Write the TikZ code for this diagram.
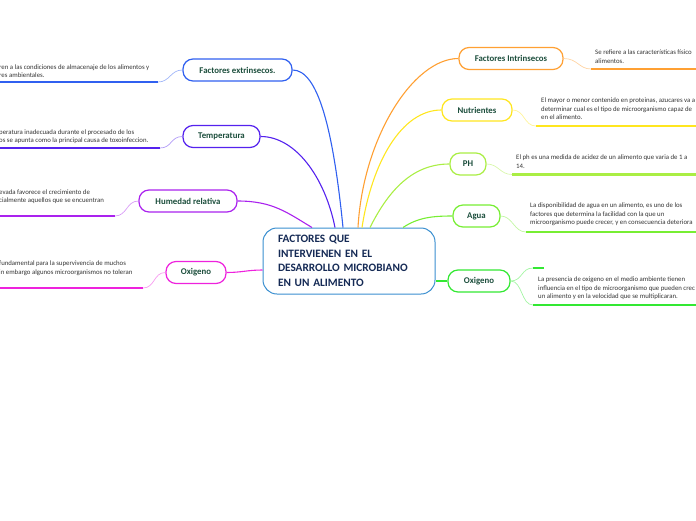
\documentclass[tikz,border=0pt]{standalone}
\usepackage{fontspec}
\setmainfont{Carlito}
\usepackage{xcolor}
\usetikzlibrary{positioning}

\definecolor{rootblue}{HTML}{3A8FD0}
\definecolor{roottext}{HTML}{152A55}
\definecolor{topictext}{HTML}{1C4E3C}
\definecolor{notetext}{HTML}{333333}
\definecolor{cext}{HTML}{3060F0}
\definecolor{ctemp}{HTML}{5522EE}
\definecolor{chum}{HTML}{AA22EE}
\definecolor{coxl}{HTML}{EE22DD}
\definecolor{cintr}{HTML}{FFA033}
\definecolor{cnutr}{HTML}{FFE61F}
\definecolor{cph}{HTML}{AAEE44}
\definecolor{cagua}{HTML}{77EE33}
\definecolor{coxr}{HTML}{33E833}

\begin{document}
\begin{tikzpicture}[x=1pt, y=-1pt,
  topic/.style={draw, rounded corners=10pt, line width=1.2pt, fill=white, minimum height=22pt, inner xsep=3pt, font=\fontsize{8.8}{10}\selectfont\bfseries, text=topictext},
  note/.style={inner sep=0pt, align=left, font=\fontsize{6.8}{8.7}\selectfont, text=notetext},
  link/.style={line width=1.1pt},
  twig/.style={line width=0.7pt},
  bar/.style={line width=2.4pt}]
  \useasboundingbox (0,0) rectangle (696,520);
  \clip (0,0) rectangle (696,520);

  % centre
  \node[draw=rootblue, fill=white, line width=1pt, rounded corners=14pt, minimum width=172pt, minimum height=66pt, text width=142pt, align=left, font=\fontsize{11.3}{14.5}\selectfont\bfseries, text=roottext] (root) at (349,261) {FACTORES QUE\\INTERVIENEN EN EL\\DESARROLLO MICROBIANO\\EN UN ALIMENTO};

  % left topics
  \node[topic, draw=cext, minimum width=109pt] (ext) at (237.5,70) {Factores extrinsecos.};
  \node[topic, draw=ctemp, minimum width=77pt] (temp) at (221.5,136.5) {Temperatura};
  \node[topic, draw=chum, minimum width=98pt] (hum) at (188,201) {Humedad relativa};
  \node[topic, draw=coxl, minimum width=60pt] (oxl) at (196,272.5) {Oxigeno};

  % right topics
  \node[topic, draw=cintr, minimum width=104pt] (intr) at (511,58.5) {Factores Intrinsecos};
  \node[topic, draw=cnutr, minimum width=70pt] (nutr) at (477,110) {Nutrientes};
  \node[topic, draw=cph, minimum width=36pt] (ph) at (468,164) {PH};
  \node[topic, draw=cagua, minimum width=47pt] (agua) at (476.5,216) {Agua};
  \node[topic, draw=coxr, minimum width=62pt] (oxr) at (479,281) {Oxigeno};

  % links from the centre
  \draw[link, cext] ([xshift=-6pt]root.north) .. controls +(-10,-100) and +(25,0) .. (ext.east);
  \draw[link, ctemp] ([xshift=-14pt]root.north) .. controls +(-10,-50) and +(35,0) .. (temp.east);
  \draw[link, chum] ([xshift=-37pt]root.north) .. controls +(-25,-15) and +(35,0) .. (hum.east);
  \draw[link, coxl] ([yshift=-9pt]root.west) .. controls +(-15,0) and +(15,0) .. (oxl.east);
  \draw[link, cintr] ([xshift=9pt]root.north) .. controls +(5,-90) and +(-45,0) .. (intr.west);
  \draw[link, cnutr] ([xshift=13pt]root.north) .. controls +(10,-65) and +(-40,0) .. (nutr.west);
  \draw[link, cph] ([xshift=21pt]root.north) .. controls +(20,-40) and +(-35,0) .. (ph.west);
  \draw[link, cagua] ([xshift=54pt]root.north) .. controls +(15,-10) and +(-20,0) .. (agua.west);
  \draw[link, coxr] ([yshift=-20pt]root.east) -- (oxr.west);

  % left details
  \coordinate (extend) at (158,82);
  \draw[twig, cext!45] (ext.west) .. controls +(-12,0) and +(12,0) .. (extend);
  \draw[bar, cext] (extend) -- (-2,82);
  \node[note, anchor=south west] (extnote) at (-1,78) {ren a las condiciones de almacenaje de los alimentos y\\res ambientales.};

  \coordinate (tempend) at (160,148);
  \draw[twig, ctemp!45] (temp.west) .. controls +(-12,0) and +(12,0) .. (tempend);
  \draw[bar, ctemp] (tempend) -- (-2,148);
  \node[note, anchor=south west] (tempnote) at (-1,144) {peratura inadecuada durante el procesado de los\\os se apunta como la principal causa de toxoinfeccion.};

  \coordinate (humend) at (115,216);
  \draw[twig, chum!45] (hum.west) .. controls +(-12,0) and +(12,0) .. (humend);
  \draw[bar, chum] (humend) -- (-2,216);
  \node[note, anchor=south west] (humnote) at (-1,204) {evada favorece el crecimiento de\\cialmente aquellos que se encuentran};

  \coordinate (oxlend) at (143,288);
  \draw[twig, coxl!45] (oxl.west) .. controls +(-12,0) and +(12,0) .. (oxlend);
  \draw[bar, coxl] (oxlend) -- (-2,288);
  \node[note, anchor=south west] (oxlnote) at (-1,276) {fundamental para la supervivencia de muchos\\in embargo algunos microorganismos no toleran};

  % right details
  \coordinate (intrend) at (591,69);
  \draw[twig, cintr!45] (intr.east) .. controls +(14,0) and +(-12,0) .. (intrend);
  \draw[bar, cintr] (intrend) -- (698,69);
  \node[note, anchor=north west] (intrnote) at (595,49.5) {Se refiere a las características físico\\alimentos.};

  \coordinate (nutrend) at (536,126);
  \draw[twig, cnutr!45] (nutr.east) .. controls +(12,0) and +(-12,0) .. (nutrend);
  \draw[bar, cnutr] (nutrend) -- (698,126);
  \node[note, anchor=north west] (nutrnote) at (541,97.5) {El mayor o menor contenido en proteinas, azucares va a\\determinar cual es el tipo de microorganismo capaz de\\en el alimento.};

  \coordinate (phend) at (512,174.5);
  \draw[twig, cph!45] (ph.east) .. controls +(12,0) and +(-12,0) .. (phend);
  \draw[bar, cph] (phend) -- (698,174.5);
  \node[note, anchor=north west] (phnote) at (516,155) {El ph es una medida de acidez de un alimento que varia de 1 a\\14.};

  \coordinate (aguaend) at (526,232);
  \draw[twig, cagua!45] (agua.east) .. controls +(12,0) and +(-12,0) .. (aguaend);
  \draw[bar, cagua] (aguaend) -- (698,232);
  \node[note, anchor=north west] (aguanote) at (530,202.5) {La disponibilidad de agua en un alimento, es uno de los\\factores que determina la facilidad con la que un\\microorganismo puede crecer, y en consecuencia deteriora};

  \coordinate (oxrtop) at (533,268);
  \coordinate (oxrend) at (533,305);
  \draw[twig, coxr!45] (oxr.east) .. controls +(12,0) and +(-12,0) .. (oxrtop);
  \draw[twig, coxr!45] (oxr.east) .. controls +(12,0) and +(-12,0) .. (oxrend);
  \draw[bar, coxr] (oxrtop) -- (544,268);
  \draw[bar, coxr] (oxrend) -- (698,305);
  \node[note, anchor=north west] (oxrnote) at (538,276.5) {La presencia de oxigeno en el medio ambiente tienen\\influencia en el tipo de microorganismo que pueden crec\\un alimento y en la velocidad que se multiplicaran.};
\end{tikzpicture}
\end{document}
